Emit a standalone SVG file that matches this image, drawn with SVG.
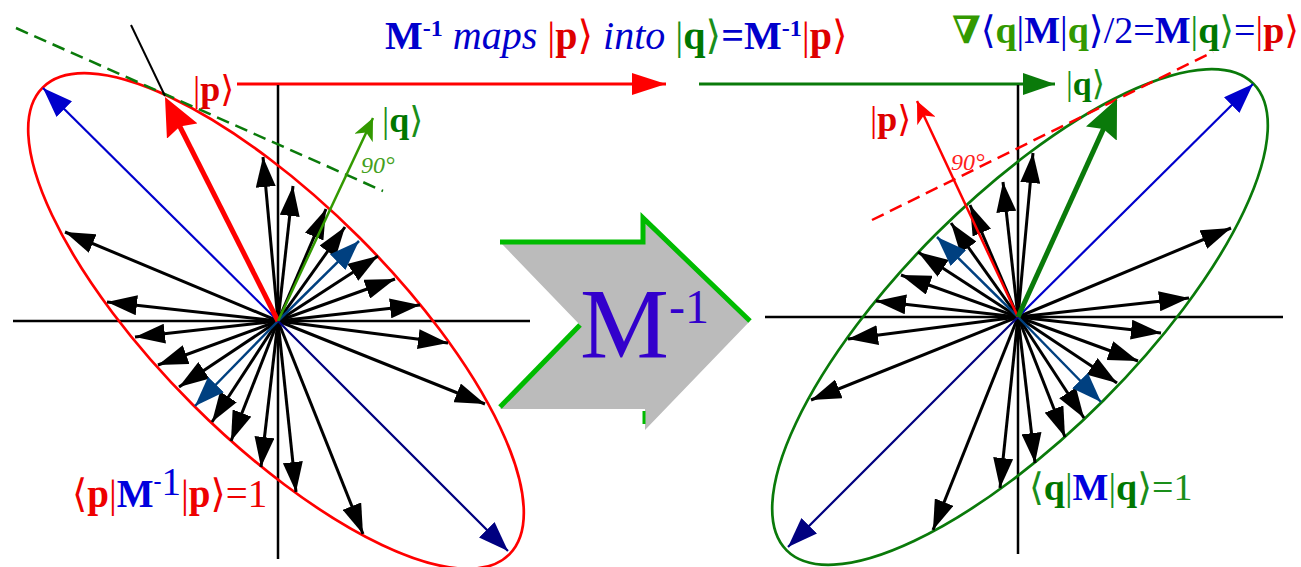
<svg xmlns="http://www.w3.org/2000/svg" width="1301" height="567" viewBox="0 0 1301 567">
<style>
.t{font-family:"Liberation Serif","DejaVu Serif","DejaVu Sans",serif}
.b{font-weight:bold}
.i{font-style:italic;font-family:"Liberation Serif","DejaVu Serif",serif}
.ax{stroke:#000;stroke-width:2.5;fill:none}
</style>
<defs>
<marker id="ak" viewBox="0 0 30 20" markerWidth="30" markerHeight="20" refX="30" refY="10" orient="auto" markerUnits="userSpaceOnUse"><path d="M0,0L30,10L0,20z" fill="#000"/></marker>
<marker id="ad" viewBox="0 0 30 22" markerWidth="30" markerHeight="22" refX="30" refY="11" orient="auto" markerUnits="userSpaceOnUse"><path d="M0,0L30,11L0,22z" fill="#004080"/></marker>
<marker id="ab" viewBox="0 0 30 22" markerWidth="30" markerHeight="22" refX="30" refY="11" orient="auto" markerUnits="userSpaceOnUse"><path d="M0,0L30,11L0,22z" fill="#0000cc"/></marker>
<marker id="an" viewBox="0 0 30 22" markerWidth="30" markerHeight="22" refX="30" refY="11" orient="auto" markerUnits="userSpaceOnUse"><path d="M0,0L30,11L0,22z" fill="#000080"/></marker>
<marker id="arT" viewBox="0 0 38 34" markerWidth="38" markerHeight="34" refX="28" refY="17" orient="auto" markerUnits="userSpaceOnUse"><path d="M0,0L38,17L0,34L5,17z" fill="#ff0000"/></marker>
<marker id="agT" viewBox="0 0 38 34" markerWidth="38" markerHeight="34" refX="28" refY="17" orient="auto" markerUnits="userSpaceOnUse"><path d="M0,0L38,17L0,34L5,17z" fill="#0a7a0a"/></marker>
<marker id="arH" viewBox="0 0 34 22" markerWidth="34" markerHeight="22" refX="34" refY="11" orient="auto" markerUnits="userSpaceOnUse"><path d="M0,0L34,11L0,22z" fill="#ff0000"/></marker>
<marker id="agH" viewBox="0 0 32 22" markerWidth="32" markerHeight="22" refX="32" refY="11" orient="auto" markerUnits="userSpaceOnUse"><path d="M0,0L32,11L0,22z" fill="#0a7a0a"/></marker>
<marker id="agS" viewBox="0 0 22 20" markerWidth="22" markerHeight="20" refX="22" refY="10" orient="auto" markerUnits="userSpaceOnUse"><path d="M0,0L22,10L0,20L6,10z" fill="#339900"/></marker>
<marker id="arS" viewBox="0 0 22 20" markerWidth="22" markerHeight="20" refX="22" refY="10" orient="auto" markerUnits="userSpaceOnUse"><path d="M0,0L22,10L0,20L6,10z" fill="#ff0000"/></marker>
<g id="fan">
<g stroke="#000" stroke-width="3" marker-end="url(#ak)">
<line x2="-213" y2="-89"/><line x2="-171" y2="-19"/><line x2="-143" y2="16"/><line x2="-120" y2="44"/><line x2="-99" y2="66"/><line x2="-66" y2="101"/><line x2="-47" y2="120"/><line x2="-17" y2="146"/><line x2="18" y2="171"/><line x2="85" y2="213"/>
<line x2="207" y2="83"/><line x2="170" y2="22"/><line x2="142" y2="-16"/><line x2="117" y2="-42"/><line x2="100" y2="-65"/><line x2="67" y2="-94"/><line x2="48" y2="-112"/><line x2="15" y2="-135"/><line x2="-15" y2="-164"/>
</g>
<g stroke="#004080" stroke-width="2.5" marker-end="url(#ad)"><line x2="-83" y2="85"/><line x2="81" y2="-80"/></g>
<line x2="-235" y2="-233" stroke="#0000cc" stroke-width="2.2" marker-end="url(#ab)"/>
<line x2="230" y2="230" stroke="#000080" stroke-width="2.2" marker-end="url(#an)"/>
</g>
</defs>

<g id="connectors">
<line x1="237" y1="84" x2="666" y2="84" stroke="#ff0000" stroke-width="3" marker-end="url(#arH)"/>
<line x1="699" y1="84" x2="1055" y2="84" stroke="#0a7a0a" stroke-width="3" marker-end="url(#agH)"/>
</g>

<g id="left-diagram">
<line class="ax" x1="13" y1="321" x2="530" y2="321"/>
<line class="ax" x1="278" y1="85" x2="278" y2="559"/>
<ellipse cx="276" cy="321" rx="330" ry="118" transform="rotate(45 276 321)" fill="none" stroke="#ff0000" stroke-width="2.7"/>
<use href="#fan" transform="translate(278,321)"/>
<line x1="16" y1="28" x2="383" y2="191" stroke="#0a7a0a" stroke-width="2.5" stroke-dasharray="13 7"/>
<line x1="131" y1="25" x2="165" y2="96" stroke="#000" stroke-width="2"/>
<line x1="278" y1="321" x2="169.5" y2="106" stroke="#ff0000" stroke-width="5" marker-end="url(#arT)"/>
<line x1="278" y1="321" x2="373" y2="118" stroke="#339900" stroke-width="2.5" marker-end="url(#agS)"/>
<text class="t i" x="361" y="173" font-size="24" fill="#44a020">90°</text>
<text class="t" x="193" y="101" font-size="36" fill="#ee0000">|<tspan class="b" fill="#dd0000">p</tspan>⟩</text>
<text class="t" x="382" y="132" font-size="36" fill="#1a8f1a">|<tspan class="b" fill="#007700">q</tspan>⟩</text>
<text class="t" x="72" y="507" font-size="39" fill="#ee0000">⟨<tspan class="b">p</tspan>|<tspan class="b" fill="#0000dd">M</tspan><tspan class="b" fill="#0000dd" font-size="24" dy="-18">-</tspan><tspan fill="#0000dd" dy="6">1</tspan><tspan dy="12">|</tspan><tspan class="b">p</tspan>⟩=1</text>
</g>

<g id="map-arrow">
<polygon points="500,242 643,242 643,218 750,321 645,430 645,409 500,409 580,325" fill="#bbbbbb"/>
<polyline points="500,242 643,242 643,218 750,321" fill="none" stroke="#00bb00" stroke-width="5"/>
<line x1="500" y1="407" x2="580" y2="325" stroke="#00bb00" stroke-width="5"/>
<line x1="644" y1="411" x2="644" y2="424" stroke="#00bb00" stroke-width="3"/>
<text class="t" x="580" y="357" font-size="100" fill="#3300cc">M<tspan font-size="48" dy="-34">-1</tspan></text>
</g>

<g id="right-diagram">
<line class="ax" x1="765" y1="317" x2="1283" y2="317"/>
<line class="ax" x1="1018" y1="85" x2="1018" y2="554"/>
<ellipse cx="1020" cy="317" rx="330" ry="118" transform="rotate(-45 1020 317)" fill="none" stroke="#0a7a0a" stroke-width="2.7"/>
<use href="#fan" transform="translate(1018,317) scale(-1,1)"/>
<line x1="872" y1="220" x2="1213" y2="52" stroke="#ff0000" stroke-width="2.5" stroke-dasharray="13 7"/>
<line x1="1018" y1="317" x2="917" y2="101" stroke="#ff0000" stroke-width="2.5" marker-end="url(#arS)"/>
<line x1="1018" y1="317" x2="1112.9" y2="108.1" stroke="#0a7a0a" stroke-width="5" marker-end="url(#agT)"/>
<text class="t i" x="951" y="170" font-size="24" fill="#ff2020">90°</text>
<text class="t" x="870" y="131" font-size="36" fill="#ee0000">|<tspan class="b" fill="#dd0000">p</tspan>⟩</text>
<text class="t" x="1066" y="95" font-size="34" fill="#1a8f1a">|<tspan class="b" fill="#007700">q</tspan>⟩</text>
<text class="t" x="1029" y="500" font-size="38" fill="#1a8f1a">⟨<tspan class="b" fill="#007700">q</tspan>|<tspan class="b" fill="#0000dd">M</tspan>|<tspan class="b" fill="#007700">q</tspan>⟩=1</text>
</g>

<g id="titles">
<text class="t" x="385" y="49" font-size="40"><tspan class="b" fill="#0000cc">M</tspan><tspan class="b" fill="#0000cc" font-size="24" dy="-13">-1</tspan><tspan class="i" fill="#0000cc" dy="13"> maps </tspan><tspan fill="#ee0000">|</tspan><tspan class="b" fill="#dd0000">p</tspan><tspan fill="#ee0000">⟩</tspan><tspan class="i" fill="#0000cc"> into </tspan><tspan fill="#1a8f1a">|</tspan><tspan class="b" fill="#007700">q</tspan><tspan fill="#1a8f1a">⟩</tspan><tspan class="b" fill="#0000cc">=M</tspan><tspan class="b" fill="#0000cc" font-size="24" dy="-13">-1</tspan><tspan fill="#ee0000" dy="13">|</tspan><tspan class="b" fill="#dd0000">p</tspan><tspan fill="#ee0000">⟩</tspan></text>
<text class="t" x="952" y="43" font-size="38"><tspan fill="#339900" class="b">∇</tspan><tspan fill="#0000cc">⟨</tspan><tspan class="b" fill="#339900">q</tspan><tspan fill="#0000cc">|</tspan><tspan class="b" fill="#0000cc">M</tspan><tspan fill="#0000cc">|</tspan><tspan class="b" fill="#339900">q</tspan><tspan fill="#0000cc">⟩/2=</tspan><tspan class="b" fill="#0000cc">M</tspan><tspan fill="#1a8f1a">|</tspan><tspan class="b" fill="#007700">q</tspan><tspan fill="#1a8f1a">⟩</tspan><tspan fill="#0000cc">=</tspan><tspan fill="#ee0000">|</tspan><tspan class="b" fill="#dd0000">p</tspan><tspan fill="#ee0000">⟩</tspan></text>
</g>
</svg>
